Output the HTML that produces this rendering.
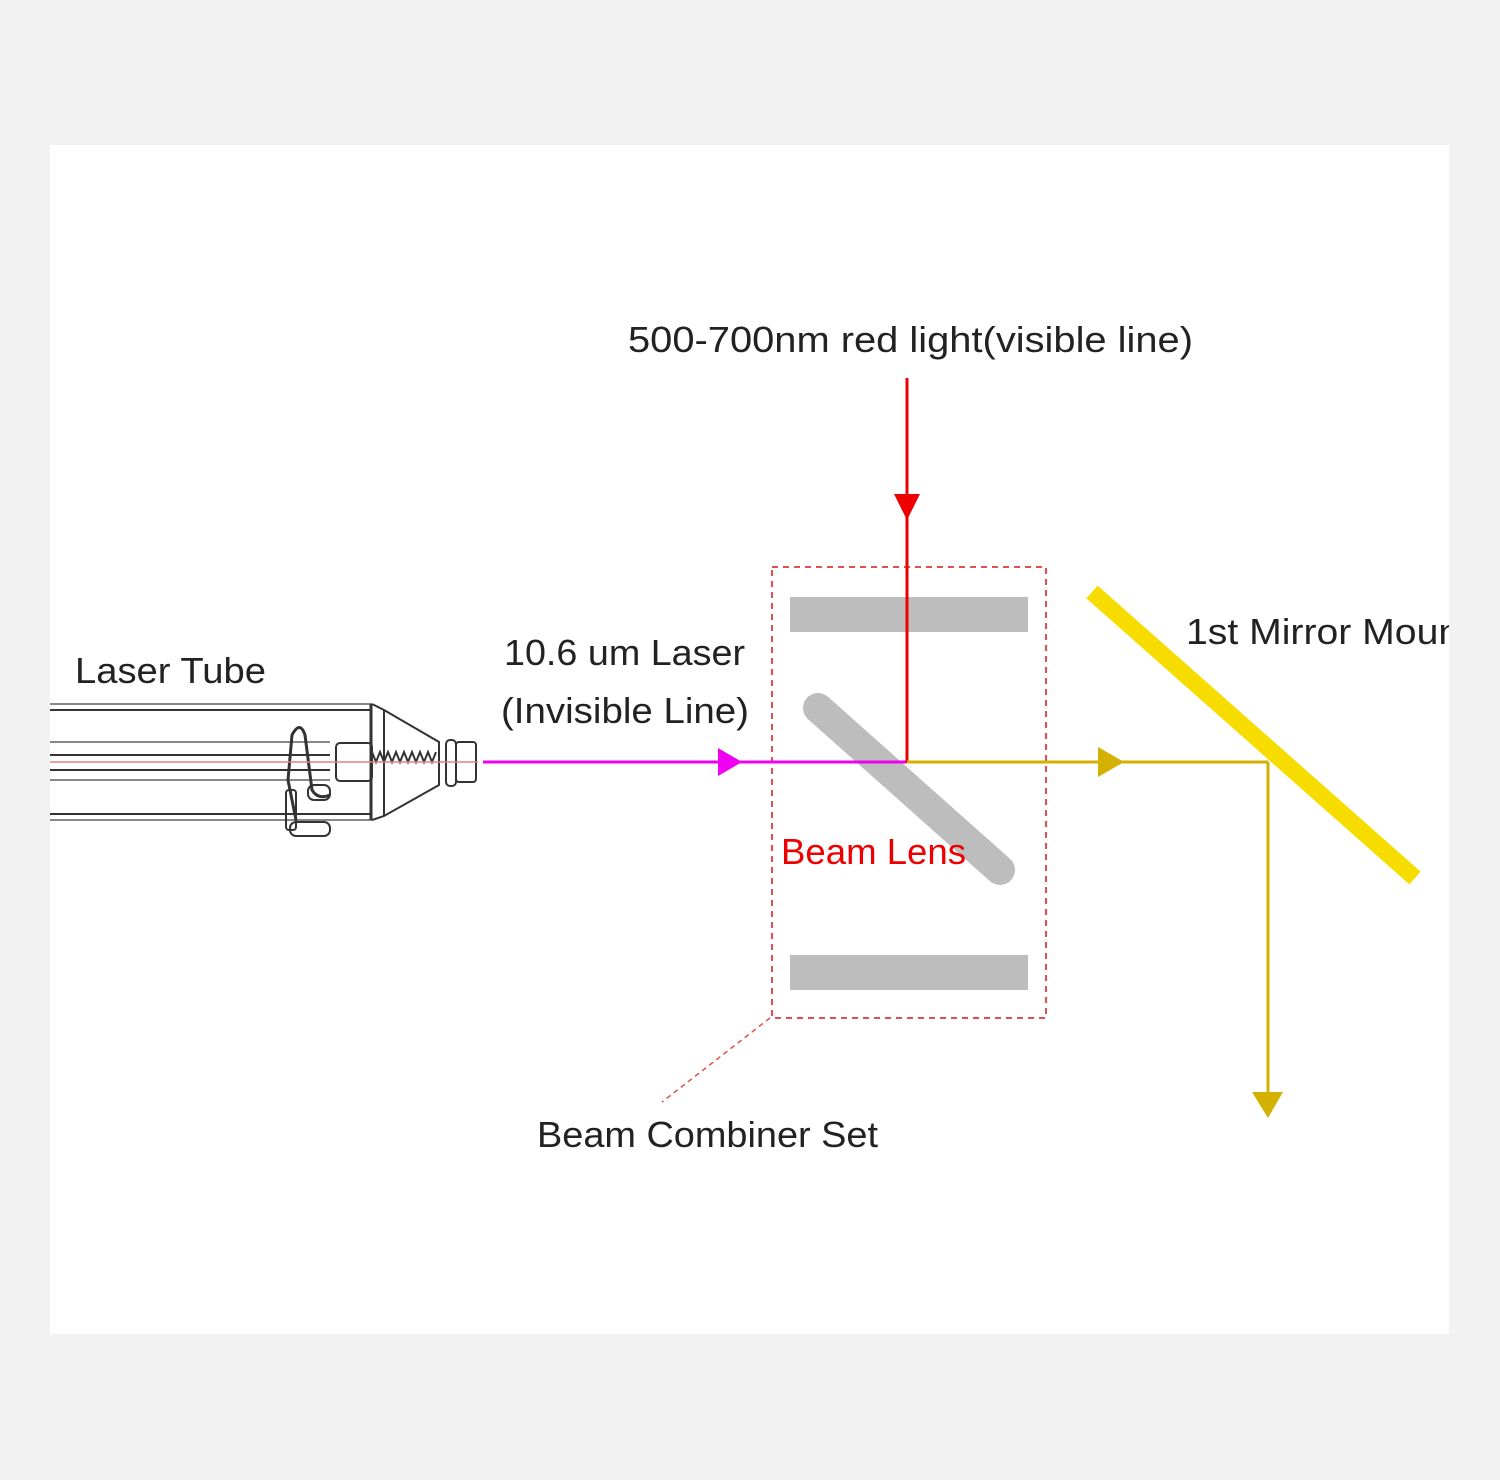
<!DOCTYPE html>
<html><head><style>
body{margin:0;background:#f2f2f2;}
svg{display:block;font-family:"Liberation Sans",sans-serif;}
</style></head><body>
<svg width="1500" height="1480" viewBox="0 0 1500 1480">
<rect x="0" y="0" width="1500" height="1480" fill="#f2f2f2"/>
<defs><clipPath id="c"><rect x="50" y="145" width="1399" height="1189"/></clipPath></defs>
<rect x="50" y="145" width="1399" height="1189" fill="#fff"/>
<g clip-path="url(#c)">
<!-- laser tube -->
<g stroke="#333" fill="none" stroke-width="2">
<line x1="50" y1="704" x2="372" y2="704" stroke="#888"/>
<line x1="50" y1="710" x2="372" y2="710"/>
<line x1="50" y1="742" x2="330" y2="742" stroke="#888"/>
<line x1="50" y1="755" x2="330" y2="755"/>
<line x1="50" y1="770" x2="330" y2="770"/>
<line x1="50" y1="780" x2="330" y2="780" stroke="#888"/>
<line x1="50" y1="814" x2="372" y2="814"/>
<line x1="50" y1="820" x2="372" y2="820" stroke="#888"/>
<line x1="371" y1="704" x2="371" y2="820" stroke-width="3"/>
<line x1="384" y1="710" x2="384" y2="816"/>
<path d="M372 704 L384 710 L439 742 L439 785 L384 816 L372 820"/>
<rect x="336" y="743" width="36" height="38" rx="4"/>
<path d="M372 752 l4 10 l4 -10 l4 10 l4 -10 l4 10 l4 -10 l4 10 l4 -10 l4 10 l4 -10 l4 10 l4 -10 l4 10 l4 -10 l4 10 l4 -10" />
<rect x="446" y="740" width="10" height="46" rx="4"/>
<rect x="456" y="742" width="20" height="40" rx="3"/>
<path d="M296 820 L288 780 L292 735 Q300 720 305 735 L312 790 Q318 800 330 795" stroke-width="3"/>
<rect x="286" y="790" width="10" height="40" rx="3"/>
<rect x="290" y="822" width="40" height="14" rx="6"/>
<rect x="308" y="785" width="22" height="15" rx="6"/>
</g>
<line x1="50" y1="762" x2="478" y2="762" stroke="#e08080" stroke-width="1.5"/>
<!-- combiner box -->
<rect x="772" y="567" width="274" height="451" fill="none" stroke="#e05050" stroke-width="2" stroke-dasharray="6,5"/>
<rect x="790" y="597" width="238" height="35" fill="#bdbdbd"/>
<rect x="790" y="955" width="238" height="35" fill="#bdbdbd"/>
<line x1="818" y1="708" x2="1000" y2="870" stroke="#bdbdbd" stroke-width="30" stroke-linecap="round"/>
<!-- magenta beam -->
<line x1="483" y1="762" x2="906" y2="762" stroke="#f000f0" stroke-width="3"/>
<polygon points="718,748 742,762 718,776" fill="#f000f0"/>
<!-- red beam -->
<line x1="907" y1="378" x2="907" y2="763" stroke="#ee0000" stroke-width="3"/>
<polygon points="894,494 920,494 907,520" fill="#ee0000"/>
<!-- yellow beam -->
<line x1="907" y1="762" x2="1268" y2="762" stroke="#d4b000" stroke-width="3"/>
<polygon points="1098,747 1124,762 1098,777" fill="#d4b000"/>
<line x1="1268" y1="762" x2="1268" y2="1095" stroke="#d4b000" stroke-width="3"/>
<polygon points="1252,1092 1283,1092 1268,1118" fill="#d4b000"/>
<line x1="1092" y1="592" x2="1415" y2="878" stroke="#f7dc00" stroke-width="17"/>
<!-- leader -->
<line x1="770" y1="1018" x2="662" y2="1102" stroke="#e05050" stroke-width="1.5" stroke-dasharray="5,4"/>
<!-- text -->
<g font-size="36" fill="#222">
<text x="628" y="352" textLength="565" lengthAdjust="spacingAndGlyphs">500-700nm red light(visible line)</text>
<text x="75" y="683" textLength="191" lengthAdjust="spacingAndGlyphs">Laser Tube</text>
<text x="504" y="665" textLength="241" lengthAdjust="spacingAndGlyphs">10.6 um Laser</text>
<text x="501" y="723" textLength="248" lengthAdjust="spacingAndGlyphs">(Invisible Line)</text>
<text x="1186" y="644" textLength="285" lengthAdjust="spacingAndGlyphs">1st Mirror Mount</text>
<text x="537" y="1147" textLength="341" lengthAdjust="spacingAndGlyphs">Beam Combiner Set</text>
<text x="781" y="864" fill="#ee0000" textLength="185" lengthAdjust="spacingAndGlyphs">Beam Lens</text>
</g>
</g>
</svg>
</body></html>
